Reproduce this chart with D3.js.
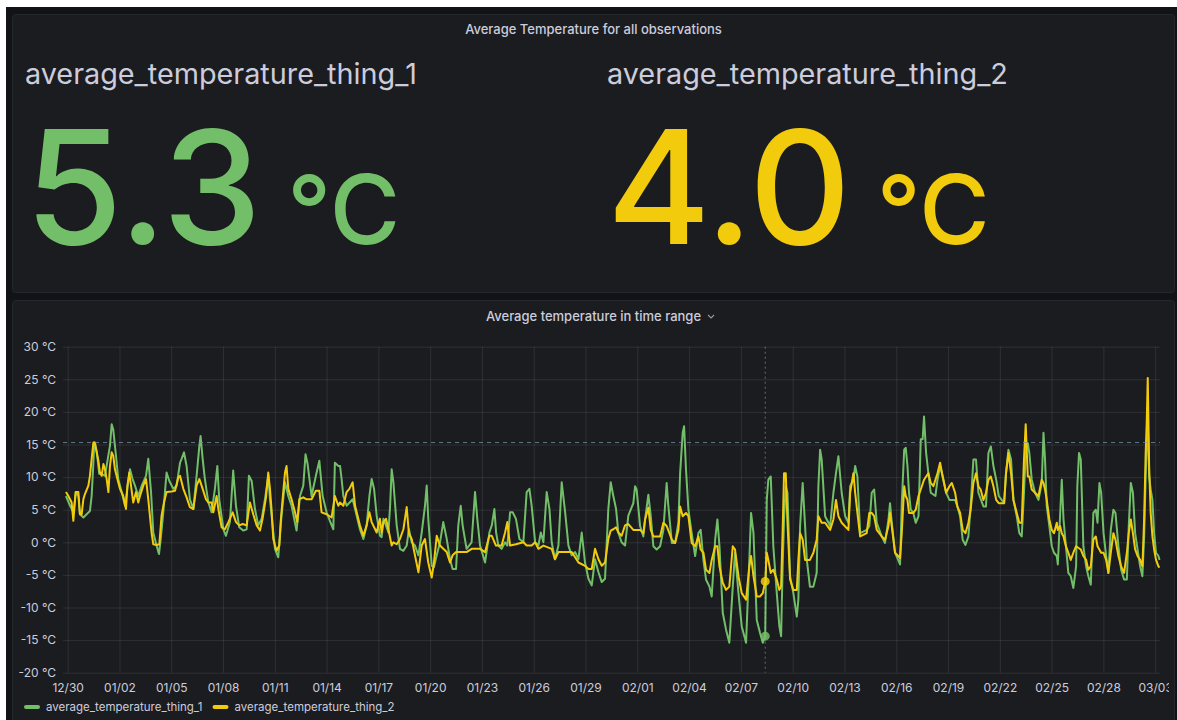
<!DOCTYPE html>
<html>
<head>
<meta charset="utf-8">
<script src="https://cdn.jsdelivr.net/npm/d3@7"></script>
<style>
  html, body { margin: 0; padding: 0; background: #ffffff; }
  svg { display: block; font-family: Inter, "Noto Sans", sans-serif; }
</style>
</head>
<body>
<svg id="dash" width="1177" height="720"></svg>
<script>
// ---- data -------------------------------------------------------------
// Series names and their overall averages (stat panels)
const seriesNames = ["average_temperature_thing_1", "average_temperature_thing_2"];
const seriesAverages = [5.3, 4.0];
const seriesColors = ["#73BF69", "#F2CC0C"];
const unitLabel = "°C";

// Time range shown in the graph
const rangeStart = "2022-12-29T17:31:00Z";
const rangeEnd = "2023-03-03T06:43:00Z";
// Readings are [days since 2022-12-30 00:00 UTC, °C]
const readingsOrigin = "2022-12-30T00:00:00Z";

const thing1Readings = [
  [-0.10,7.1],[0.14,5.6],[0.33,4.6],[0.48,7.7],[0.62,7.1],[0.71,4.3],[0.91,3.8],[1.10,4.3],[1.29,4.8],[1.39,7.1],
  [1.49,12.2],[1.54,15.3],[1.68,14.0],[1.83,10.5],[1.97,10.5],[2.16,10.2],[2.45,14.8],[2.55,18.1],[2.64,17.3],[2.80,13.3],
  [2.93,9.7],[3.13,7.7],[3.32,5.6],[3.61,11.2],[3.76,9.7],[3.90,8.7],[4.09,7.1],[4.29,8.7],[4.54,10.2],[4.67,12.8],
  [4.83,7.7],[4.96,1.5],[5.15,-0.5],[5.29,-1.8],[5.39,0.5],[5.54,4.6],[5.73,10.7],[5.89,9.4],[6.12,8.2],[6.31,8.7],
  [6.51,12.2],[6.60,12.8],[6.74,13.8],[6.89,11.7],[7.08,6.6],[7.28,5.1],[7.47,10.2],[7.63,14.8],[7.70,16.3],[7.82,12.8],
  [7.95,9.7],[8.15,6.1],[8.34,4.6],[8.53,8.2],[8.67,11.7],[8.78,6.6],[9.02,2.0],[9.17,1.0],[9.40,3.1],[9.59,11.0],
  [9.75,5.6],[9.94,2.3],[10.17,1.8],[10.37,2.0],[10.50,10.2],[10.66,9.4],[10.85,5.1],[11.04,2.6],[11.24,3.6],[11.43,6.6],
  [11.62,10.2],[11.72,6.6],[12.01,-1.0],[12.20,-2.3],[12.39,4.1],[12.59,9.2],[12.78,7.1],[12.97,5.6],[13.26,1.8],[13.46,7.1],
  [13.65,8.7],[13.78,13.5],[13.90,12.0],[14.13,7.1],[14.38,10.2],[14.58,12.5],[14.77,7.1],[15.00,4.6],[15.19,3.3],[15.39,2.0],
  [15.48,12.2],[15.68,11.7],[15.78,11.7],[15.87,9.7],[15.97,7.1],[16.16,5.6],[16.51,6.6],[16.65,5.1],[16.93,2.0],[17.13,0.5],
  [17.32,2.6],[17.48,7.1],[17.61,9.7],[17.75,8.2],[17.90,4.1],[18.09,1.0],[18.19,0.8],[18.29,3.6],[18.44,2.6],[18.58,1.5],
  [18.68,5.6],[18.77,11.2],[18.87,9.2],[19.06,2.6],[19.25,-1.0],[19.45,-1.3],[19.64,-0.5],[19.77,2.0],[19.93,0.0],[20.12,-0.5],
  [20.32,-2.0],[20.51,1.5],[20.70,5.6],[20.80,8.7],[20.89,3.6],[21.09,-3.6],[21.22,-3.8],[21.38,-2.0],[21.57,0.0],[21.76,3.1],
  [21.96,0.5],[22.15,-2.6],[22.30,-4.1],[22.50,-4.1],[22.63,2.6],[22.77,5.6],[22.88,2.6],[23.11,-1.0],[23.40,0.0],[23.60,7.7],
  [23.73,3.6],[23.89,-0.5],[24.18,-3.1],[24.43,1.5],[24.57,2.6],[24.72,5.1],[24.82,1.5],[24.95,-0.5],[25.14,-1.0],[25.34,0.0],
  [25.47,-0.5],[25.63,4.6],[25.78,4.6],[25.97,3.6],[26.17,0.5],[26.40,0.0],[26.59,7.7],[26.75,8.2],[26.88,5.6],[27.08,0.0],
  [27.27,-0.5],[27.41,1.5],[27.56,0.0],[27.75,7.7],[27.91,5.1],[28.04,0.0],[28.23,-2.6],[28.43,-0.5],[28.62,9.2],[28.82,4.6],
  [29.01,-0.5],[29.20,-2.0],[29.40,-1.5],[29.59,-2.6],[29.78,1.5],[29.97,-3.1],[30.17,-5.6],[30.36,-6.6],[30.55,-2.6],[30.75,-4.6],
  [30.94,-6.1],[31.13,-5.6],[31.32,5.1],[31.46,9.2],[31.61,7.1],[31.77,5.1],[31.90,1.5],[32.09,0.0],[32.29,-0.5],[32.48,4.1],
  [32.77,6.0],[32.87,8.6],[32.96,8.1],[33.16,2.5],[33.35,0.9],[33.45,3.5],[33.64,7.3],[33.78,4.0],[33.93,-0.6],[34.12,-1.1],
  [34.32,-0.6],[34.51,1.9],[34.70,9.1],[34.80,5.5],[35.00,-0.1],[35.19,-0.1],[35.38,3.0],[35.48,10.6],[35.63,16.8],[35.71,17.8],
  [35.82,11.2],[35.96,5.0],[36.15,1.4],[36.35,-2.1],[36.54,1.4],[36.67,1.9],[36.83,-2.7],[36.98,-5.7],[37.18,-6.8],[37.31,-8.3],
  [37.51,0.4],[37.64,3.5],[37.76,-0.6],[37.95,-10.8],[38.14,-13.4],[38.33,-15.4],[38.53,-6.8],[38.66,-1.6],[38.86,-7.8],[39.05,-12.9],
  [39.30,-15.4],[39.49,-2.7],[39.59,4.5],[39.73,1.4],[39.92,-11.9],[40.11,-13.9],[40.27,-15.4],[40.41,-14.4],[40.50,6.5],[40.59,9.6],
  [40.73,10.1],[40.88,-0.6],[41.08,-7.8],[41.23,-12.9],[41.33,-14.4],[41.42,-3.7],[41.50,3.5],[41.60,8.6],[41.70,7.6],[41.85,-5.2],
  [42.04,-7.8],[42.24,-11.4],[42.33,-8.8],[42.43,2.5],[42.58,9.1],[42.72,2.5],[42.82,-2.7],[43.00,-6.8],[43.20,-6.8],[43.39,-4.7],
  [43.49,8.6],[43.59,14.2],[43.68,12.7],[43.88,4.0],[44.17,2.5],[44.36,7.6],[44.51,10.6],[44.65,13.2],[44.84,7.6],[45.04,4.0],
  [45.23,3.0],[45.33,8.6],[45.52,9.6],[45.62,11.7],[45.75,10.1],[45.91,1.4],[46.29,1.9],[46.44,2.5],[46.58,7.6],[46.72,8.1],
  [46.87,3.0],[47.16,0.9],[47.35,-0.1],[47.55,3.5],[47.64,6.0],[47.74,3.0],[47.93,-1.6],[48.22,-3.4],[48.32,6.0],[48.46,14.2],
  [48.55,14.5],[48.65,11.7],[48.74,7.6],[48.84,5.0],[48.99,4.5],[49.13,3.0],[49.29,4.0],[49.42,15.8],[49.53,15.8],[49.61,19.3],
  [49.73,13.7],[49.86,10.6],[50.00,7.6],[50.27,7.1],[50.39,9.6],[50.54,11.7],[50.69,10.1],[50.89,7.6],[51.08,6.5],[51.41,6.5],
  [51.54,5.5],[51.70,4.0],[51.85,0.4],[52.01,-0.4],[52.18,0.9],[52.31,5.5],[52.47,12.7],[52.62,12.7],[52.76,7.6],[53.05,5.5],
  [53.20,5.5],[53.34,13.7],[53.48,14.7],[53.63,11.7],[53.79,9.6],[53.94,7.1],[54.25,6.0],[54.36,10.6],[54.50,14.2],[54.65,12.7],
  [54.79,6.5],[54.98,4.0],[55.13,1.4],[55.27,0.9],[55.40,7.6],[55.50,13.7],[55.62,15.2],[55.71,13.7],[55.85,9.6],[56.04,7.6],
  [56.24,6.5],[56.43,9.1],[56.53,16.8],[56.62,12.7],[56.72,5.5],[56.87,2.5],[57.01,-0.6],[57.14,-1.6],[57.30,-2.1],[57.36,-3.4],
  [57.49,4.0],[57.59,9.6],[57.69,3.5],[57.83,-0.6],[57.97,-4.7],[58.11,-5.2],[58.26,-7.0],[58.42,-3.7],[58.49,8.6],[58.59,13.7],
  [58.69,12.7],[58.84,-0.6],[59.00,-3.7],[59.13,-5.2],[59.27,-6.5],[59.42,4.5],[59.56,5.0],[59.66,3.0],[59.77,9.1],[59.87,7.6],
  [60.01,1.4],[60.16,-2.1],[60.29,-4.7],[60.43,1.9],[60.58,5.0],[60.70,4.5],[60.87,-0.6],[61.03,-4.2],[61.20,-5.7],[61.36,-5.7],
  [61.47,2.5],[61.59,9.1],[61.71,7.6],[61.84,1.4],[61.98,-1.1],[62.13,-3.7],[62.26,-5.2],[62.36,0.9],[62.45,10.1],[62.51,15.2],
  [62.57,18.8],[62.65,10.1],[62.74,8.1],[62.84,6.5],[62.94,1.4],[63.05,-1.6],[63.19,-2.1],[63.25,-2.7]
];

const thing2Readings = [
  [-0.10,7.7],[0.04,7.1],[0.23,6.1],[0.33,3.3],[0.46,7.7],[0.62,7.7],[0.71,4.3],[0.81,4.3],[0.91,6.6],[1.00,7.4],
  [1.20,8.7],[1.29,10.2],[1.39,12.8],[1.49,15.3],[1.58,15.3],[1.68,13.8],[1.78,12.5],[1.87,10.7],[1.97,10.2],[2.07,12.0],
  [2.16,11.2],[2.26,9.7],[2.36,7.7],[2.45,11.7],[2.55,13.8],[2.64,13.3],[2.74,11.2],[2.88,9.7],[3.03,8.2],[3.22,7.1],
  [3.38,5.1],[3.46,8.7],[3.57,10.7],[3.67,8.7],[3.80,6.1],[3.96,7.7],[4.09,6.1],[4.19,7.1],[4.38,8.7],[4.54,9.7],
  [4.67,6.6],[4.86,1.5],[4.96,-0.3],[5.15,-0.4],[5.31,-0.3],[5.44,4.1],[5.58,6.1],[5.73,7.7],[6.02,7.8],[6.22,7.9],
  [6.41,9.9],[6.51,10.2],[6.70,8.2],[6.89,6.9],[7.08,5.4],[7.28,5.1],[7.47,8.7],[7.63,9.7],[7.82,8.2],[8.01,6.6],
  [8.15,6.1],[8.34,6.1],[8.44,4.6],[8.63,7.1],[8.73,5.1],[8.92,2.3],[9.11,2.0],[9.31,3.1],[9.56,4.6],[9.75,3.1],
  [9.94,2.6],[10.14,2.8],[10.37,2.6],[10.56,6.1],[10.75,4.3],[10.95,2.6],[11.14,1.8],[11.29,3.6],[11.49,6.9],[11.62,10.7],
  [11.72,8.2],[11.81,5.1],[11.91,0.5],[12.10,-1.3],[12.26,-0.5],[12.34,3.1],[12.45,6.6],[12.59,10.7],[12.68,11.7],[12.78,8.2],
  [12.97,6.6],[13.17,4.6],[13.30,3.1],[13.42,6.6],[13.65,6.9],[13.84,6.6],[14.13,6.6],[14.38,7.9],[14.58,7.9],[14.71,4.6],
  [15.00,4.3],[15.29,3.8],[15.48,7.1],[15.68,5.6],[15.78,6.1],[15.97,5.6],[16.16,7.7],[16.32,8.2],[16.51,9.2],[16.65,5.6],
  [16.93,2.6],[17.13,1.0],[17.32,2.6],[17.48,4.6],[17.61,3.1],[17.90,1.5],[18.09,3.6],[18.19,1.5],[18.29,3.1],[18.44,3.6],
  [18.58,2.0],[18.77,-0.5],[18.87,0.0],[19.06,-0.3],[19.25,0.5],[19.45,2.0],[19.64,5.4],[19.77,1.3],[19.93,0.5],[20.12,-2.0],
  [20.32,-4.6],[20.51,-0.5],[20.70,0.5],[20.89,-3.1],[21.09,-5.4],[21.22,-3.1],[21.38,1.0],[21.57,-0.5],[21.76,-1.0],[21.96,-1.5],
  [22.15,-3.1],[22.30,-2.0],[22.50,-1.5],[22.77,-1.5],[23.11,-1.5],[23.40,-1.0],[23.89,-1.0],[24.18,-1.5],[24.43,1.0],[24.57,1.0],
  [24.81,-0.5],[25.14,-0.5],[25.34,1.5],[25.47,3.1],[25.63,-0.5],[25.97,-0.3],[26.40,0.0],[26.59,-0.5],[26.88,-0.5],[27.08,0.0],
  [27.27,-1.0],[27.56,-0.5],[28.04,-1.0],[28.23,-2.6],[28.43,-1.5],[29.20,-1.5],[29.59,-3.1],[29.97,-3.6],[30.17,-4.1],[30.36,-4.1],
  [30.55,-1.0],[30.75,-2.6],[30.94,-3.6],[31.13,-3.1],[31.32,0.5],[31.46,1.8],[31.61,2.0],[31.77,2.3],[31.90,1.5],[32.09,1.0],
  [32.29,2.6],[32.48,2.8],[32.77,1.9],[32.96,1.9],[33.16,1.9],[33.35,1.4],[33.45,3.5],[33.64,5.3],[33.78,1.9],[33.93,0.9],
  [34.12,0.9],[34.32,0.9],[34.51,3.0],[34.70,2.5],[35.00,0.4],[35.19,-0.1],[35.38,1.9],[35.48,5.5],[35.63,4.0],[35.82,4.5],
  [35.96,4.0],[36.15,-0.1],[36.35,-0.6],[36.54,0.9],[36.67,-1.1],[36.83,-1.6],[36.98,-4.2],[37.18,-4.7],[37.31,-2.7],[37.51,-0.6],
  [37.64,-0.6],[37.76,-3.7],[37.95,-6.2],[38.14,-7.3],[38.33,-6.8],[38.53,-0.6],[38.66,-1.1],[38.86,-5.2],[39.05,-7.8],[39.30,-8.8],
  [39.49,-3.7],[39.59,-2.1],[39.73,-5.2],[39.92,-8.3],[40.11,-8.3],[40.27,-7.8],[40.41,-6.0],[40.50,-1.6],[40.59,-2.7],[40.73,-4.7],
  [40.88,-4.2],[41.08,-5.7],[41.23,-7.3],[41.33,-6.8],[41.42,1.9],[41.50,10.6],[41.60,10.6],[41.70,3.0],[41.85,-5.7],[42.04,-7.3],
  [42.24,-7.3],[42.33,-2.7],[42.43,1.4],[42.58,0.4],[42.72,-2.7],[43.00,-2.7],[43.20,-1.6],[43.39,0.4],[43.49,4.0],[43.68,3.0],
  [43.88,3.0],[44.17,1.9],[44.36,3.5],[44.51,6.5],[44.65,4.0],[44.84,3.0],[45.23,1.9],[45.33,7.6],[45.52,10.6],[45.62,7.6],
  [45.75,4.5],[45.91,0.9],[46.29,1.4],[46.44,4.5],[46.58,4.5],[46.72,4.0],[46.87,1.9],[47.16,0.9],[47.35,0.4],[47.55,2.5],
  [47.64,4.5],[47.74,2.5],[47.93,-1.6],[48.22,-2.4],[48.32,1.4],[48.46,8.6],[48.55,7.1],[48.65,6.5],[48.74,4.5],[48.99,4.5],
  [49.13,5.0],[49.29,7.1],[49.42,8.1],[49.61,9.6],[49.86,10.6],[50.00,9.1],[50.15,8.6],[50.27,9.6],[50.39,10.6],[50.54,12.2],
  [50.69,10.1],[50.89,7.6],[51.08,8.6],[51.22,9.1],[51.41,7.6],[51.54,5.5],[51.70,4.5],[51.85,1.9],[52.01,1.4],[52.18,3.0],
  [52.31,5.0],[52.47,9.1],[52.62,10.6],[52.76,8.6],[52.89,8.1],[53.05,6.5],[53.20,7.6],[53.34,9.6],[53.48,10.1],[53.63,8.6],
  [53.79,6.5],[53.94,6.0],[54.25,6.0],[54.36,10.6],[54.50,13.7],[54.65,10.6],[54.79,6.5],[54.98,4.5],[55.13,3.0],[55.27,3.0],
  [55.40,12.7],[55.50,18.1],[55.62,10.1],[55.71,10.1],[55.85,8.1],[56.04,7.6],[56.24,7.1],[56.43,9.6],[56.53,9.1],[56.62,8.1],
  [56.72,6.5],[56.87,3.5],[57.01,1.9],[57.14,1.4],[57.30,3.0],[57.36,1.9],[57.49,2.5],[57.59,1.4],[57.69,0.9],[57.83,-0.6],
  [57.97,-1.6],[58.11,-2.7],[58.26,-1.6],[58.42,-0.6],[58.69,-1.1],[58.84,-2.1],[59.00,-2.7],[59.13,-4.2],[59.27,-3.7],[59.42,0.4],
  [59.56,0.9],[59.66,-0.6],[59.87,-1.6],[60.01,-1.6],[60.16,-2.7],[60.29,-4.7],[60.43,-1.6],[60.58,1.4],[60.70,0.4],[60.87,-2.1],
  [61.03,-3.7],[61.20,-4.7],[61.36,-1.6],[61.47,1.4],[61.59,3.5],[61.71,1.4],[61.84,-1.1],[61.98,-2.1],[62.13,-2.7],[62.26,-3.7],
  [62.36,3.5],[62.45,13.7],[62.51,18.3],[62.57,25.2],[62.65,11.7],[62.74,4.5],[62.84,0.9],[62.94,-1.1],[63.05,-2.7],[63.19,-3.7],
  [63.25,-3.9]
];

// Axis ticks
const yTickValues = [-20, -15, -10, -5, 0, 5, 10, 15, 20, 25, 30];
const xTickDates = [
  "2022-12-30","2023-01-02","2023-01-05","2023-01-08","2023-01-11","2023-01-14","2023-01-17",
  "2023-01-20","2023-01-23","2023-01-26","2023-01-29","2023-02-01","2023-02-04","2023-02-07",
  "2023-02-10","2023-02-13","2023-02-16","2023-02-19","2023-02-22","2023-02-25","2023-02-28","2023-03-03"
];

// Cursor position (crosshair) and the values it reads
const cursorDay = 40.41;
const cursorTemp = 15.3;
const cursorValues = [-14.4, -6.0];

// Panel titles
const statPanelTitle = "Average Temperature for all observations";
const graphPanelTitle = "Average temperature in time range";

// ---- drawing ----------------------------------------------------------
const svg = d3.select("#dash");
const W = 1177, H = 720;
const textColor = "#ccccdc";
const panelFill = "#1b1c20";
const panelStroke = "#25272c";

// dashboard background
svg.append("rect").attr("x", 6).attr("y", 7).attr("width", W - 6).attr("height", H - 7).attr("fill", "#121317");

// panels
svg.append("rect").attr("x", 12.5).attr("y", 14.5).attr("width", 1162).attr("height", 278)
  .attr("rx", 3).attr("fill", panelFill).attr("stroke", panelStroke);
svg.append("rect").attr("x", 12.5).attr("y", 300.5).attr("width", 1162).attr("height", 440)
  .attr("rx", 3).attr("fill", panelFill).attr("stroke", panelStroke);

// stat panel
svg.append("text").attr("x", 593.5).attr("y", 34).attr("text-anchor", "middle")
  .attr("fill", textColor).attr("font-size", 13).attr("font-weight", 500).text(statPanelTitle);

const statX = [25, 607];
seriesNames.forEach((name, i) => {
  svg.append("text").attr("x", statX[i]).attr("y", 84)
    .attr("fill", textColor).attr("font-size", 28.8).attr("font-weight", 400).text(name);
  const v = svg.append("text").attr("x", statX[i]).attr("y", 244)
    .attr("fill", seriesColors[i]).attr("font-weight", 500);
  v.append("tspan").attr("font-size", 158).text(seriesAverages[i].toFixed(1));
  v.append("tspan").attr("font-size", 96).text(" " + unitLabel);
});

// graph panel title
const gTitle = svg.append("text").attr("x", 593.5).attr("y", 321).attr("text-anchor", "middle")
  .attr("fill", textColor).attr("font-size", 13).attr("font-weight", 500).text(graphPanelTitle);
const titleEnd = 593.5 + gTitle.node().getComputedTextLength() / 2;
svg.append("path")
  .attr("d", `M${titleEnd + 7},${315} l3,3 l3,-3`)
  .attr("fill", "none").attr("stroke", "#9a9aa6").attr("stroke-width", 1.1);

// scales
const origin = new Date(readingsOrigin).getTime();
const dayMs = 864e5;
const toDate = d => new Date(origin + d * dayMs);
const plot = { left: 63, right: 1160, top: 346.7, bottom: 672.7 };
const x = d3.scaleUtc().domain([new Date(rangeStart), new Date(rangeEnd)]).range([plot.left, plot.right]);
const y = d3.scaleLinear().domain([-20, 30]).range([plot.bottom, plot.top]);
const xTicks = xTickDates.map(s => new Date(s + "T00:00:00Z"));

// grid
const gridColor = "rgba(240,250,255,0.09)";
const yGrid = svg.append("g").attr("transform", `translate(${plot.left},0)`)
  .call(d3.axisLeft(y).tickValues(yTickValues).tickSize(-(plot.right - plot.left)).tickFormat(""));
yGrid.select(".domain").remove();
yGrid.selectAll("line").attr("stroke", gridColor);
const xGrid = svg.append("g").attr("transform", `translate(0,${plot.bottom})`)
  .call(d3.axisBottom(x).tickValues(xTicks).tickSize(-(plot.bottom - plot.top)).tickFormat(""));
xGrid.select(".domain").remove();
xGrid.selectAll("line").attr("stroke", gridColor);

// axis labels
const yAxis = svg.append("g").attr("transform", `translate(${plot.left - 3},0)`)
  .call(d3.axisLeft(y).tickValues(yTickValues).tickSize(0).tickPadding(4).tickFormat(d => `${d} ${unitLabel}`));
yAxis.select(".domain").remove();
yAxis.selectAll("text").attr("fill", textColor).attr("font-size", 12).attr("font-family", "Inter, sans-serif");

// time labels are clipped at the panel's inner edge
svg.append("clipPath").attr("id", "xlabel-clip")
  .append("rect").attr("x", 0).attr("y", plot.bottom).attr("width", 1169).attr("height", 30);
const xAxis = svg.append("g").attr("clip-path", "url(#xlabel-clip)")
  .append("g").attr("transform", `translate(0,${plot.bottom + 5})`)
  .call(d3.axisBottom(x).tickValues(xTicks).tickSize(0).tickPadding(6).tickFormat(d3.utcFormat("%m/%d")));
xAxis.select(".domain").remove();
xAxis.selectAll("text").attr("fill", textColor).attr("font-size", 12).attr("font-family", "Inter, sans-serif");

// series lines
const line = d3.line().x(d => x(toDate(d[0]))).y(d => y(d[1]));
[thing1Readings, thing2Readings].forEach((data, i) => {
  svg.append("path").datum(data)
    .attr("d", line)
    .attr("fill", "none")
    .attr("stroke", seriesColors[i])
    .attr("stroke-width", 2)
    .attr("stroke-linejoin", "round");
});

// crosshair
const cx = x(toDate(cursorDay));
svg.append("line").attr("x1", cx).attr("x2", cx).attr("y1", plot.top).attr("y2", plot.bottom)
  .attr("stroke", "rgba(204,204,220,0.45)").attr("stroke-dasharray", "2,3");
svg.append("line").attr("x1", plot.left).attr("x2", plot.right).attr("y1", y(cursorTemp)).attr("y2", y(cursorTemp))
  .attr("stroke", "rgba(120,150,170,0.75)").attr("stroke-dasharray", "4,4");
cursorValues.forEach((v, i) => {
  svg.append("circle").attr("cx", cx).attr("cy", y(v)).attr("r", 4.5)
    .attr("fill", seriesColors[i]).attr("fill-opacity", 0.85);
});

// legend
let lx = 26;
const ly = 707;
seriesNames.forEach((name, i) => {
  svg.append("line").attr("x1", lx).attr("x2", lx + 12).attr("y1", ly).attr("y2", ly)
    .attr("stroke", seriesColors[i]).attr("stroke-width", 4).attr("stroke-linecap", "round");
  const t = svg.append("text").attr("x", lx + 20).attr("y", ly + 4)
    .attr("fill", textColor).attr("font-size", 11.5).text(name);
  lx += 20 + t.node().getComputedTextLength() + 12;
});
</script>
</body>
</html>
